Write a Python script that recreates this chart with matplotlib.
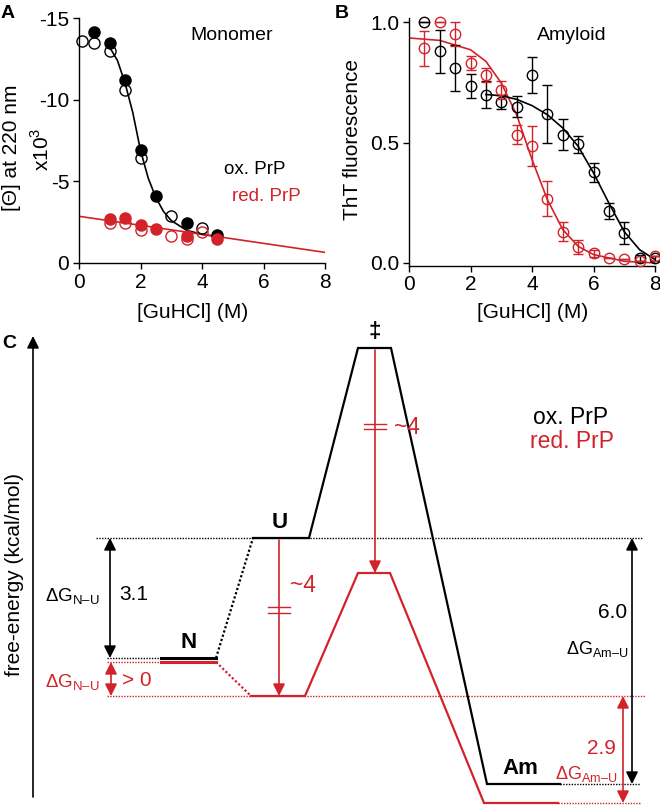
import numpy as np
import matplotlib
matplotlib.use('Agg')
import matplotlib.pyplot as plt

plt.rcParams['font.family'] = ['Liberation Sans', 'DejaVu Sans']
plt.rcParams['mathtext.fontset'] = 'custom'
plt.rcParams['mathtext.rm'] = 'Liberation Sans'

RED = '#d2232a'

# ---------------- Panel A: monomer CD data ----------------
ox_fill_x = [0.5, 1.0, 1.5, 2.0, 2.5, 3.5, 4.5]
ox_fill_y = [-14.15, -13.5, -11.2, -6.9, -4.08, -2.45, -1.73]
ox_open_x = [0.1, 0.5, 1.0, 1.5, 2.0, 3.0, 4.0]
ox_open_y = [-13.6, -13.5, -12.95, -10.6, -6.4, -2.86, -2.14]
red_fill_x = [1.0, 1.5, 2.0, 2.5, 3.5, 4.5]
red_fill_y = [-2.7, -2.75, -2.35, -2.08, -1.67, -1.47]
red_open_x = [1.0, 1.5, 2.0, 3.0, 3.5, 4.0]
red_open_y = [-2.45, -2.45, -2.04, -1.67, -1.47, -1.9]
ox_fit_x = [1.0, 1.25, 1.5, 1.75, 2.0, 2.25, 2.5, 2.75, 3.0, 3.5, 4.0, 4.5]
ox_fit_y = [-13.2, -12.4, -11.0, -9.2, -6.9, -5.2, -4.0, -3.15, -2.6, -2.0, -1.75, -1.62]
red_line_x = [0, 8]
red_line_y = [-2.86, -0.65]

# ---------------- Panel B: amyloid ThT data ----------------
gu = [0.5, 1.0, 1.5, 2.0, 2.5, 3.0, 3.5, 4.0, 4.5, 5.0, 5.5, 6.0, 6.5, 7.0, 7.5, 8.0]
tht_ox = [1.0, 0.88, 0.81, 0.737, 0.70, 0.67, 0.65, 0.78, 0.62, 0.533, 0.494, 0.377, 0.215, 0.125, 0.02, 0.02]
err_ox = [0.0, 0.09, 0.097, 0.05, 0.055, 0.03, 0.045, 0.075, 0.12, 0.065, 0.035, 0.04, 0.033, 0.046, 0.012, 0.01]
tht_red = [0.893, 1.0, 0.95, 0.83, 0.78, 0.72, 0.533, 0.485, 0.267, 0.13, 0.066, 0.04, 0.02, 0.017, 0.007, 0.028]
err_red = [0.073, 0.0, 0.05, 0.028, 0.03, 0.038, 0.04, 0.083, 0.073, 0.04, 0.03, 0.015, 0.0, 0.0, 0.0, 0.0]
fit_red_x = [0, 1, 2, 2.5, 3.0, 3.5, 4.0, 4.5, 5.0, 5.5, 6.0, 7.0, 8.0]
fit_red_y = [0.935, 0.925, 0.886, 0.838, 0.748, 0.616, 0.43, 0.263, 0.139, 0.069, 0.035, 0.007, 0.0]
fit_ox_x = [2.5, 3.0, 3.5, 4.0, 4.5, 5.0, 5.5, 6.0, 6.5, 7.0, 7.5, 8.0]
fit_ox_y = [0.70, 0.695, 0.68, 0.654, 0.616, 0.561, 0.485, 0.374, 0.249, 0.13, 0.055, 0.014]

# ---------------- Panel C: free-energy diagram ----------------
# energies in kcal/mol relative to oxidised U (schematic, as drawn)
E_ox = {'N': -3.0, 'U': 0.0, 'TS': 4.75, 'Am': -6.15}
E_red = {'N': -3.1, 'U': -3.95, 'TS': -0.875, 'Am': -6.625}
# reaction coordinate extents of each level
X_ox = {'N': (161, 216), 'U': (253, 309), 'TS': (358, 391), 'Am': (487, 560)}
X_red = {'N': (161, 216), 'U': (251, 305), 'TS': (358, 390), 'Am': (484, 558)}

fig = plt.figure(figsize=(6.6, 8.07), dpi=100)
W, H = 660.0, 807.0


def px_axes(x0, y0, x1, y1):
    return fig.add_axes([x0 / W, 1 - y1 / H, (x1 - x0) / W, (y1 - y0) / H])


def style(ax):
    for s in ['top', 'right']:
        ax.spines[s].set_visible(False)
    for s in ['left', 'bottom']:
        ax.spines[s].set_linewidth(1.0)
    ax.tick_params(direction='out', length=4, width=1.0, labelsize=15, pad=3)


# ---- A ----
axA = px_axes(79, 18, 325, 263)
axA.plot(ox_fit_x, ox_fit_y, color='black', lw=1.2, zorder=1)
axA.plot(red_line_x, red_line_y, color=RED, lw=1.2, zorder=1)
axA.plot(ox_open_x, ox_open_y, 'o', ms=8, mfc='none', mec='black', mew=1, clip_on=False, zorder=2)
axA.plot(red_open_x, red_open_y, 'o', ms=8, mfc='none', mec=RED, mew=1, clip_on=False, zorder=2)
axA.plot(ox_fill_x, ox_fill_y, 'o', ms=8, mfc='black', mec='black', mew=1, clip_on=False, zorder=3)
axA.plot(red_fill_x, red_fill_y, 'o', ms=8, mfc=RED, mec=RED, mew=1, clip_on=False, zorder=3)
axA.set_xlim(0, 8)
axA.set_ylim(0, -15)
axA.set_xticks([0, 2, 4, 6, 8])
axA.set_yticks([-15, -10, -5, 0])
axA.set_yticklabels(['-15', '-10', '-5', '0'])
style(axA)
axA.text(0.62, 0.93, 'Monomer', transform=axA.transAxes, fontsize=14, ha='center', va='center')
axA.text(0.59, 0.38, 'ox. PrP', transform=axA.transAxes, fontsize=13.5, ha='left', va='center')
axA.text(0.62, 0.27, 'red. PrP', transform=axA.transAxes, fontsize=13.5, ha='left', va='center', color=RED)

# ---- B ----
axB = px_axes(409, 18, 655, 265.6)
axB.plot(fit_red_x, fit_red_y, color=RED, lw=1.2, zorder=1)
axB.plot(fit_ox_x, fit_ox_y, color='black', lw=1.2, zorder=1)
axB.errorbar(gu, tht_ox, yerr=err_ox, fmt='o', ms=7.5, mfc='none', mec='black', mew=1,
             ecolor='black', elinewidth=1, capsize=3.6, capthick=1, clip_on=False, zorder=2)
axB.errorbar(gu, tht_red, yerr=err_red, fmt='o', ms=7.5, mfc='none', mec=RED, mew=1,
             ecolor=RED, elinewidth=1, capsize=3.6, capthick=1, clip_on=False, zorder=3)
axB.set_xlim(0, 8)
axB.set_ylim(-0.011, 1.018)
axB.set_xticks([0, 2, 4, 6, 8])
axB.set_yticks([0, 0.5, 1.0])
axB.set_yticklabels(['0.0', '0.5', '1.0'])
style(axB)
axB.text(0.66, 0.93, 'Amyloid', transform=axB.transAxes, fontsize=14, ha='center', va='center')

# axis labels / panel letters
fig.text(193 / W, 1 - 313 / H, '[GuHCl] (M)', fontsize=15, ha='center', va='center')
fig.text(533 / W, 1 - 313 / H, '[GuHCl] (M)', fontsize=15, ha='center', va='center')
fig.text(12 / W, 1 - 148 / H, '[\u0398] at 220 nm', fontsize=15, ha='center', va='center', rotation=90)
fig.text(42 / W, 1 - 149 / H, r'x10$^{\mathregular{3}}$', fontsize=15, ha='center', va='center', rotation=90)
fig.text(352 / W, 1 - 139 / H, 'ThT fluorescence', fontsize=15, ha='center', va='center', rotation=90)
fig.text(1 / W, 1 - 14 / H, 'A', fontsize=14, fontweight='bold', ha='left', va='center')
fig.text(335 / W, 1 - 14 / H, 'B', fontsize=14, fontweight='bold', ha='left', va='center')
fig.text(2 / W, 1 - 343 / H, 'C', fontsize=14, fontweight='bold', ha='left', va='center')

# ---- C ----
top_px, u_px, scale = 330.0, 538.0, 40.0  # px per kcal/mol
axC = px_axes(0, top_px, 660, 807)
axC.set_xlim(0, 660)
axC.set_ylim((u_px - 807) / scale, (u_px - top_px) / scale)
axC.axis('off')


def E(py):
    # pixel row -> energy coordinate, for text placement
    return (u_px - py) / scale


def profile(X, En, color):
    order = ['U', 'TS', 'Am']
    xs, ys = [], []
    for k in order:
        xs += list(X[k])
        ys += [En[k], En[k]]
    axC.plot(xs, ys, color=color, lw=1.6, solid_joinstyle='miter', zorder=3)
    axC.plot(X['N'], [En['N']] * 2, color=color, lw=2.2, zorder=3)
    axC.plot([X['N'][1], X['U'][0]], [En['N'], En['U']], color=color, lw=1.6,
             linestyle=(0, (1, 1)), zorder=2)


def dotted(x0, x1, y, color):
    axC.plot([x0, x1], [y, y], color=color, lw=1.0, linestyle=(0, (1, 1)), zorder=1)


dotted(96, 643, E_ox['U'], 'black')
dotted(107, X_ox['N'][0], E_ox['N'], 'black')
dotted(X_ox['Am'][1], 640, E_ox['Am'], 'black')
dotted(107, X_red['N'][0], E_red['N'], RED)
dotted(107, 645, E_red['U'], RED)
dotted(X_red['Am'][1], 640, E_red['Am'], RED)

profile(X_red, E_red, RED)
profile(X_ox, E_ox, 'black')


def arrow(x, y_from, y_to, color, style='-|>'):
    axC.annotate('', xy=(x, y_to), xytext=(x, y_from),
                 arrowprops=dict(arrowstyle=style, color=color, lw=1.2,
                                 mutation_scale=18, shrinkA=0, shrinkB=0), zorder=4)


# energy axis
arrow(33, E(797), E(336), 'black')
arrow(110, E_ox['U'], E_ox['N'], 'black', '<|-|>')
arrow(111, E_red['N'], E_red['U'], RED, '<|-|>')
arrow(279, E_ox['U'] - 0.05, E_red['U'], RED)
arrow(375, E_ox['TS'] - 0.05, E_red['TS'], RED)
arrow(632, E_ox['U'], E_ox['Am'], 'black', '<|-|>')
arrow(623, E_red['U'], E_red['Am'], RED, '<|-|>')

# break marks on the ~4 arrows
for xc, yc in [(279, E(610)), (375, E(426.5))]:
    for dy in (0.07, -0.07):
        axC.plot([xc - 11, xc + 11], [yc + dy, yc + dy], color=RED, lw=1.0, zorder=5)

fs = 16
axC.text(375, E(331), '\u2021', fontsize=fs, fontweight='bold', ha='center', va='center')
axC.text(280, E(523), 'U', fontsize=fs, fontweight='bold', ha='center', va='center')
axC.text(189, E(643), 'N', fontsize=fs, fontweight='bold', ha='center', va='center')
axC.text(520, E(768), 'Am', fontsize=fs, fontweight='bold', ha='center', va='center')

dg_nu = '\u0394G$_{\\mathregular{N\u2013U}}$'
dg_am = '\u0394G$_{\\mathregular{Am\u2013U}}$'
axC.text(100, E(597), dg_nu, fontsize=13.5, ha='right', va='center')
axC.text(119, E(595), '3.1', fontsize=15, ha='left', va='center')
axC.text(100, E(683), dg_nu, fontsize=13.5, ha='right', va='center', color=RED)
axC.text(122, E(681), '> 0', fontsize=15, ha='left', va='center', color=RED)
axC.text(290, E(585), '~4', fontsize=16.5, ha='left', va='center', color=RED)
axC.text(394, E(428), '~4', fontsize=16.5, ha='left', va='center', color=RED)
axC.text(627, E(612), '6.0', fontsize=15, ha='right', va='center')
axC.text(628, E(649), dg_am, fontsize=13, ha='right', va='center')
axC.text(616, E(749), '2.9', fontsize=15, ha='right', va='center', color=RED)
axC.text(617, E(774), dg_am, fontsize=13, ha='right', va='center', color=RED)
axC.text(533, E(418), 'ox. PrP', fontsize=16.5, ha='left', va='center')
axC.text(530, E(442), 'red. PrP', fontsize=16.5, ha='left', va='center', color=RED)
axC.text(15, E(575), 'free-energy (kcal/mol)', fontsize=15, ha='center', va='center', rotation=90)

fig.savefig('out.png', dpi=100)
